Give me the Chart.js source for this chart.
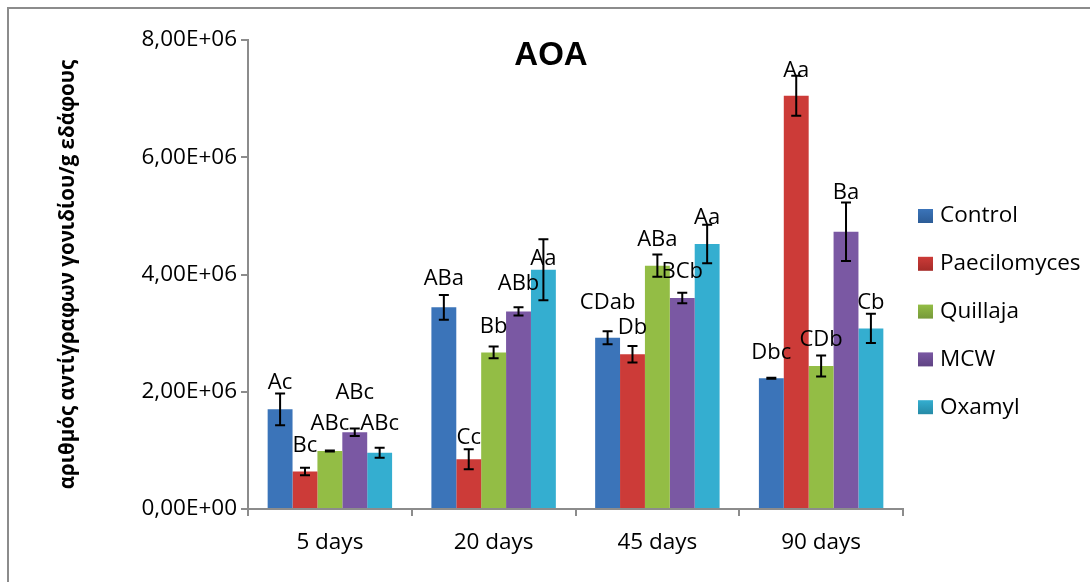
<!DOCTYPE html>
<html lang="el">
<head>
  <meta charset="UTF-8">
  <title>AOA</title>
  <style>
    body {
      margin: 0;
      padding: 0;
      background-color: #fff;
    }
    .frame {
      position: absolute;
      left: 7px;
      top: 7px;
      width: 1100px;
      height: 600px;
      border-left: 2px solid #8c8c8c;
      border-top: 2px solid #8c8c8c;
    }
    #wrap {
      position: absolute;
      left: 0;
      top: 0;
      width: 1090px;
      height: 582px;
    }
  </style>
  <script src="https://cdn.jsdelivr.net/npm/chart.js"></script>
</head>
<body>
  <div class="frame"></div>
  <div id="wrap"><canvas id="aoaChart"></canvas></div>

  <script>
    // categories and treatments
    const days = ['5 days', '20 days', '45 days', '90 days'];
    const treatments = ['Control', 'Paecilomyces', 'Quillaja', 'MCW', 'Oxamyl'];

    // mean values per treatment (one entry per day)
    const control      = [1.70e6, 3.44e6, 2.92e6, 2.23e6];
    const paecilomyces = [0.64e6, 0.85e6, 2.64e6, 7.05e6];
    const quillaja     = [0.99e6, 2.67e6, 4.15e6, 2.44e6];
    const mcw          = [1.31e6, 3.37e6, 3.60e6, 4.73e6];
    const oxamyl       = [0.96e6, 4.08e6, 4.52e6, 3.08e6];

    // standard errors
    const controlErr      = [0.27e6, 0.21e6, 0.11e6, 0.01e6];
    const paecilomycesErr = [0.065e6, 0.17e6, 0.14e6, 0.34e6];
    const quillajaErr     = [0.01e6, 0.10e6, 0.19e6, 0.18e6];
    const mcwErr          = [0.065e6, 0.07e6, 0.09e6, 0.50e6];
    const oxamylErr       = [0.085e6, 0.52e6, 0.33e6, 0.25e6];

    // significance letters
    const controlTxt      = ['Ac', 'ABa', 'CDab', 'Dbc'];
    const paecilomycesTxt = ['Bc', 'Cc', 'Db', 'Aa'];
    const quillajaTxt     = ['ABc', 'Bb', 'ABa', 'CDb'];
    const mcwTxt          = ['ABc', 'ABb', 'BCb', 'Ba'];
    const oxamylTxt       = ['ABc', 'Aa', 'Aa', 'Cb'];

    const series = [control, paecilomyces, quillaja, mcw, oxamyl];
    const errors = [controlErr, paecilomycesErr, quillajaErr, mcwErr, oxamylErr];
    const letters = [controlTxt, paecilomycesTxt, quillajaTxt, mcwTxt, oxamylTxt];
    const colors = ['#3b74b9', '#cc3b38', '#93bd45', '#7a58a3', '#34aed0'];
    const darkColors = ['#2c5c96', '#a52b28', '#76993a', '#5f4383', '#258aa6'];

    // hand placed label lift (px) like in the original sheet
    const labelLift = [
      [-3, 2, 15, 11],
      [8, -3, 4, -9],
      [13, 6, 1, 2],
      [22, 10, 7, -4],
      [10, -33, -7, -3]
    ];

    const FONT = '"Open Sans", Lato, sans-serif';

    function sciLabel(v) {
      if (v === 0) return '0,00E+00';
      const e = Math.floor(Math.log10(v));
      const m = v / Math.pow(10, e);
      return m.toFixed(2).replace('.', ',') + 'E+' + String(e).padStart(2, '0');
    }

    // error bars, letters, title and legend
    const extras = {
      id: 'extras',
      afterDatasetsDraw(chart) {
        const ctx = chart.ctx;
        const y = chart.scales.y;
        ctx.save();
        series.forEach((vals, i) => {
          const meta = chart.getDatasetMeta(i);
          meta.data.forEach((bar, j) => {
            const top = y.getPixelForValue(vals[j] + errors[i][j]);
            const bot = y.getPixelForValue(vals[j] - errors[i][j]);
            ctx.strokeStyle = '#000';
            ctx.lineWidth = 2;
            ctx.beginPath();
            ctx.moveTo(bar.x, top); ctx.lineTo(bar.x, bot);
            ctx.moveTo(bar.x - 5, top); ctx.lineTo(bar.x + 5, top);
            ctx.moveTo(bar.x - 5, bot); ctx.lineTo(bar.x + 5, bot);
            ctx.stroke();

            ctx.fillStyle = '#000';
            ctx.font = '22px ' + FONT;
            ctx.textAlign = 'center';
            ctx.textBaseline = 'middle';
            ctx.fillText(letters[i][j], bar.x, top - 14 - labelLift[i][j]);
          });
        });

        // title inside plot
        ctx.font = 'bold 33px Arial, "Liberation Sans", sans-serif';
        ctx.fillStyle = '#000';
        ctx.textAlign = 'center';
        ctx.textBaseline = 'middle';
        ctx.fillText('AOA', 551, 56);

        // legend
        treatments.forEach((name, i) => {
          const ly = 216 + i * 47.8;
          const g = ctx.createLinearGradient(0, ly - 7, 0, ly + 7);
          g.addColorStop(0, colors[i]);
          g.addColorStop(1, darkColors[i]);
          ctx.fillStyle = g;
          ctx.fillRect(918, ly - 7, 15, 14);
          ctx.fillStyle = '#000';
          ctx.font = '22.5px ' + FONT;
          ctx.textAlign = 'left';
          ctx.fillText(name, 940, ly);
        });
        ctx.restore();
      }
    };

    // bar fill with darker sides, like the office gradient
    function barFill(i) {
      return function (c) {
        const el = c.element;
        if (!el || el.width === undefined || isNaN(el.x)) return colors[i];
        const w = el.width;
        const g = c.chart.ctx.createLinearGradient(el.x - w / 2, 0, el.x + w / 2, 0);
        g.addColorStop(0, darkColors[i]);
        g.addColorStop(0.3, colors[i]);
        g.addColorStop(0.7, colors[i]);
        g.addColorStop(1, darkColors[i]);
        return g;
      };
    }

    new Chart(document.getElementById('aoaChart'), {
      type: 'bar',
      data: {
        labels: days,
        datasets: treatments.map((name, i) => ({
          label: name,
          data: series[i],
          backgroundColor: barFill(i),
          borderWidth: 0,
          categoryPercentage: 0.76,
          barPercentage: 1.0
        }))
      },
      options: {
        responsive: true,
        maintainAspectRatio: false,
        animation: false,
        layout: {
          padding: { left: 0, top: 40, right: 187, bottom: 0 }
        },
        plugins: {
          legend: { display: false },
          title: { display: false },
          tooltip: { enabled: false }
        },
        scales: {
          x: {
            afterFit(scale) { scale.height = 73; },
            grid: {
              drawOnChartArea: false,
              tickLength: 7,
              color: '#8c8c8c',
              lineWidth: 2
            },
            border: { color: '#8c8c8c', width: 2 },
            ticks: {
              color: '#000',
              padding: 13,
              font: { family: FONT, size: 22.5 }
            }
          },
          y: {
            min: 0,
            max: 8e6,
            afterFit(scale) { scale.width = 248; },
            grid: {
              drawOnChartArea: false,
              tickLength: 7,
              color: '#8c8c8c',
              lineWidth: 2
            },
            border: { color: '#8c8c8c', width: 2 },
            ticks: {
              stepSize: 2e6,
              color: '#000',
              padding: 4,
              font: { family: FONT, size: 22.5 },
              callback: v => sciLabel(v)
            },
            title: {
              display: true,
              text: 'αριθμός αντίγραφων γονιδίου/g εδάφους',
              color: '#000',
              font: { family: FONT, size: 20.5, weight: 'bold' },
              padding: { top: 56, bottom: 0 }
            }
          }
        }
      },
      plugins: [extras]
    });
  </script>
</body>
</html>
